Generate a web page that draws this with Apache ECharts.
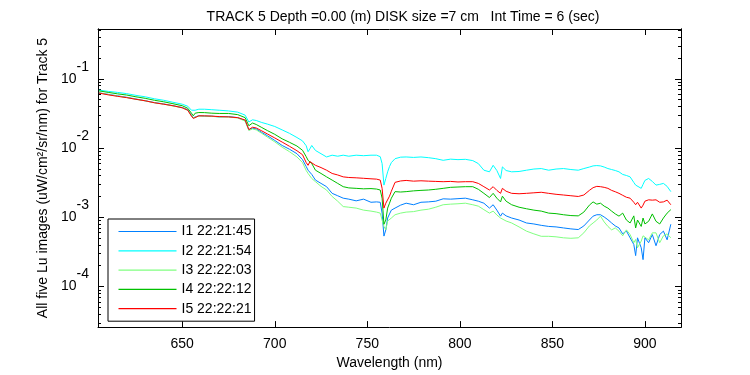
<!DOCTYPE html>
<html>
<head>
<meta charset="utf-8">
<script src="https://cdn.jsdelivr.net/npm/echarts@6/dist/echarts.min.js"></script>
<style>
  html, body { margin: 0; padding: 0; background: #fff; }
  #chart { width: 750px; height: 375px; }
</style>
</head>
<body>
<div id="chart"></div>
<script>
// wavelength (nm)
var wavelengths = [605, 610, 615, 620, 625, 630, 635, 640, 645, 650, 653, 655, 656, 657, 659, 662, 666, 670, 675, 680,
  684, 686, 687, 688, 690, 693, 696, 700, 704, 708, 712, 715, 717, 718, 719, 720, 722, 725, 728, 731,
  734, 737, 740, 744, 748, 752, 755, 757, 758, 759, 760, 761, 762, 763, 765, 768, 771, 775, 779, 783,
  787, 791, 795, 799, 803, 807, 810, 813, 816, 818, 820, 822, 823, 825, 828, 832, 836, 840, 844, 848,
  852, 856, 860, 864, 867, 870, 872, 874, 876, 878, 880, 882, 884, 886, 888, 890, 892, 894, 895, 896,
  898, 899, 900, 902, 904, 906, 908, 910, 912, 914];

// Lu (uW/cm^2/sr/nm)
var lu1 = [0.0627, 0.0597, 0.0568, 0.0541, 0.0511, 0.0482, 0.0454, 0.0434, 0.0409, 0.0385, 0.0358, 0.0299, 0.0275, 0.0289, 0.0294, 0.0289, 0.0289, 0.0282, 0.0285, 0.0275,
  0.0250, 0.0183, 0.0186, 0.0193, 0.0189, 0.0168, 0.0151, 0.0129, 0.0109, 0.00961, 0.00829, 0.00681, 0.00541, 0.00479, 0.00474, 0.00416, 0.00345, 0.00309, 0.00277, 0.00222,
  0.00205, 0.00189, 0.00183, 0.00173, 0.00183, 0.00165, 0.00167, 0.00165, 0.00115, 0.000536, 0.000659, 0.000977, 0.00112, 0.00127, 0.00136, 0.00150, 0.00160, 0.00152, 0.00165, 0.00167,
  0.00171, 0.00185, 0.00183, 0.00186, 0.00189, 0.00179, 0.00171, 0.00160, 0.00136, 0.00152, 0.00127, 0.00104, 0.00115, 0.00105, 0.000977, 0.000915, 0.000829, 0.000802, 0.000766, 0.000739,
  0.000727, 0.000703, 0.000681, 0.000666, 0.000751, 0.000915, 0.00104, 0.00109, 0.00109, 0.00101, 0.000924, 0.000829, 0.000751, 0.000703, 0.000577, 0.000637, 0.000506, 0.000406, 0.000280, 0.000506,
  0.000364, 0.000245, 0.000506, 0.000430, 0.000564, 0.000389, 0.000564, 0.000632, 0.000474, 0.000794];

var lu2 = [0.0687, 0.0659, 0.0637, 0.0611, 0.0577, 0.0550, 0.0515, 0.0490, 0.0459, 0.0430, 0.0402, 0.0352, 0.0333, 0.0352, 0.0364, 0.0364, 0.0358, 0.0352, 0.0344, 0.0330,
  0.0299, 0.0238, 0.0235, 0.0256, 0.0250, 0.0234, 0.0222, 0.0205, 0.0183, 0.0163, 0.0142, 0.0127, 0.0108, 0.00885, 0.00977, 0.0109, 0.00924, 0.00829, 0.00744, 0.00789,
  0.00763, 0.00789, 0.00763, 0.00789, 0.00776, 0.00789, 0.00789, 0.00751, 0.00597, 0.00292, 0.00364, 0.00454, 0.00541, 0.00617, 0.00703, 0.00739, 0.00744, 0.00733, 0.00744, 0.00727,
  0.00703, 0.00666, 0.00692, 0.00681, 0.00688, 0.00659, 0.00597, 0.00479, 0.00454, 0.00564, 0.00474, 0.00364, 0.00535, 0.00474, 0.00454, 0.00459, 0.00479, 0.00498, 0.00506, 0.00479,
  0.00498, 0.00506, 0.00490, 0.00479, 0.00506, 0.00532, 0.00553, 0.00559, 0.00553, 0.00532, 0.00506, 0.00490, 0.00474, 0.00454, 0.00416, 0.00402, 0.00384, 0.00319, 0.00292, 0.00309,
  0.00262, 0.00299, 0.00341, 0.00364, 0.00330, 0.00292, 0.00299, 0.00309, 0.00280, 0.00235];

var lu3 = [0.0627, 0.0593, 0.0563, 0.0537, 0.0506, 0.0480, 0.0451, 0.0430, 0.0405, 0.0381, 0.0352, 0.0294, 0.0272, 0.0287, 0.0291, 0.0289, 0.0287, 0.0281, 0.0281, 0.0272,
  0.0245, 0.0180, 0.0183, 0.0189, 0.0183, 0.0163, 0.0144, 0.0123, 0.0103, 0.00885, 0.00744, 0.00617, 0.00474, 0.00430, 0.00416, 0.00364, 0.00327, 0.00280, 0.00248, 0.00200,
  0.00171, 0.00143, 0.00140, 0.00136, 0.00127, 0.00123, 0.00119, 0.00115, 0.000915, 0.000739, 0.000659, 0.000885, 0.000915, 0.000977, 0.00109, 0.00115, 0.00119, 0.00121, 0.00127, 0.00131,
  0.00140, 0.00152, 0.00155, 0.00157, 0.00160, 0.00152, 0.00145, 0.00129, 0.00115, 0.00123, 0.00108, 0.000977, 0.000915, 0.000885, 0.000829, 0.000727, 0.000632, 0.000577, 0.000532, 0.000532,
  0.000523, 0.000506, 0.000498, 0.000506, 0.000597, 0.000751, 0.000829, 0.000915, 0.00104, 0.000857, 0.000739, 0.000659, 0.000703, 0.000632, 0.000541, 0.000659, 0.000564, 0.000430, 0.000479, 0.000364,
  0.000454, 0.000541, 0.000564, 0.000474, 0.000597, 0.000597, 0.000430, 0.000541, 0.000577, 0.000506];

var lu4 = [0.0670, 0.0637, 0.0607, 0.0583, 0.0550, 0.0523, 0.0490, 0.0466, 0.0437, 0.0409, 0.0376, 0.0319, 0.0292, 0.0319, 0.0326, 0.0325, 0.0319, 0.0316, 0.0316, 0.0304,
  0.0275, 0.0210, 0.0212, 0.0230, 0.0219, 0.0198, 0.0179, 0.0158, 0.0136, 0.0121, 0.0107, 0.00930, 0.00751, 0.00666, 0.00637, 0.00597, 0.00479, 0.00430, 0.00384, 0.00345,
  0.00309, 0.00277, 0.00266, 0.00262, 0.00258, 0.00260, 0.00256, 0.00248, 0.00189, 0.000794, 0.000915, 0.00136, 0.00160, 0.00189, 0.00235, 0.00232, 0.00235, 0.00241, 0.00245, 0.00248,
  0.00254, 0.00262, 0.00271, 0.00274, 0.00277, 0.00277, 0.00254, 0.00222, 0.00193, 0.00222, 0.00189, 0.00167, 0.00202, 0.00171, 0.00152, 0.00140, 0.00133, 0.00127, 0.00123, 0.00115,
  0.00113, 0.00109, 0.00106, 0.00105, 0.00119, 0.00150, 0.00167, 0.00155, 0.00160, 0.00145, 0.00136, 0.00123, 0.00112, 0.00104, 0.00115, 0.000915, 0.000829, 0.00105, 0.000703, 0.000915,
  0.000739, 0.000977, 0.000802, 0.000876, 0.00112, 0.000876, 0.000802, 0.000977, 0.00115, 0.00129];

var lu5 = [0.0623, 0.0587, 0.0559, 0.0535, 0.0506, 0.0482, 0.0451, 0.0430, 0.0409, 0.0382, 0.0352, 0.0289, 0.0268, 0.0285, 0.0292, 0.0292, 0.0289, 0.0285, 0.0282, 0.0275,
  0.0254, 0.0185, 0.0189, 0.0200, 0.0195, 0.0177, 0.0160, 0.0140, 0.0122, 0.0106, 0.00915, 0.00802, 0.00617, 0.00564, 0.00637, 0.00666, 0.00564, 0.00523, 0.00479, 0.00430,
  0.00409, 0.00384, 0.00376, 0.00372, 0.00366, 0.00360, 0.00356, 0.00345, 0.00262, 0.00136, 0.00160, 0.00171, 0.00202, 0.00238, 0.00320, 0.00335, 0.00341, 0.00333, 0.00337, 0.00333,
  0.00330, 0.00327, 0.00330, 0.00324, 0.00327, 0.00327, 0.00309, 0.00277, 0.00248, 0.00277, 0.00245, 0.00222, 0.00262, 0.00238, 0.00222, 0.00219, 0.00222, 0.00226, 0.00230, 0.00222,
  0.00215, 0.00210, 0.00205, 0.00200, 0.00210, 0.00245, 0.00268, 0.00280, 0.00277, 0.00271, 0.00262, 0.00245, 0.00234, 0.00222, 0.00208, 0.00195, 0.00189, 0.00165, 0.00152, 0.00165,
  0.00136, 0.00150, 0.00171, 0.00179, 0.00177, 0.00179, 0.00165, 0.00167, 0.00177, 0.00152];

var seriesNames = ['I1 22:21:45', 'I2 22:21:54', 'I3 22:22:03', 'I4 22:22:12', 'I5 22:22:21'];
var seriesColors = ['#0080ff', '#00ffff', '#80ff80', '#00c000', '#ff0000'];
var seriesData = [lu1, lu2, lu3, lu4, lu5];

var xTicks = [650, 700, 750, 800, 850, 900];
var yMajor = [1e-4, 1e-3, 1e-2, 1e-1];
var yMinor = [3e-5, 4e-5, 5e-5, 6e-5, 7e-5, 8e-5, 9e-5,
  2e-4, 3e-4, 4e-4, 5e-4, 6e-4, 7e-4, 8e-4, 9e-4,
  2e-3, 3e-3, 4e-3, 5e-3, 6e-3, 7e-3, 8e-3, 9e-3,
  2e-2, 3e-2, 4e-2, 5e-2, 6e-2, 7e-2, 8e-2, 9e-2,
  2e-1, 3e-1, 4e-1, 5e-1];

var FONT = 'Liberation Sans';
var X_MIN = 604.5, X_MAX = 919.5;
var Y_MIN = 2.6e-5, Y_MAX = 0.524;

var chart = echarts.init(document.getElementById('chart'));

function xAxisDef(pos, showLabel) {
  return {
    type: 'value', position: pos, min: X_MIN, max: X_MAX,
    name: showLabel ? 'Wavelength (nm)' : '',
    nameLocation: 'middle', nameGap: 23,
    nameTextStyle: { color: '#000', fontSize: 14, fontFamily: FONT },
    axisLine: { show: true, lineStyle: { color: '#000', width: 1 } },
    axisTick: { show: true, inside: true, length: 6, customValues: xTicks, lineStyle: { color: '#000' } },
    axisLabel: { show: showLabel, customValues: xTicks, margin: 10, color: '#000', fontSize: 14, fontFamily: FONT },
    splitLine: { show: false }
  };
}

function yAxisDef(pos, major, showLabel) {
  return {
    type: 'log', logBase: 10, position: pos, min: Y_MIN, max: Y_MAX,
    name: showLabel ? 'All five Lu images (uW/cm\u00b2/sr/nm) for Track 5' : '',
    nameLocation: 'middle', nameGap: 40, nameRotate: 90,
    nameTextStyle: { color: '#000', fontSize: 14, fontFamily: FONT },
    axisLine: { show: true, lineStyle: { color: '#000', width: 1 } },
    axisTick: { show: true, inside: true, length: major ? 6 : 3, customValues: major ? yMajor : yMinor, lineStyle: { color: '#000' } },
    axisLabel: {
      show: showLabel, customValues: yMajor, margin: 9,
      formatter: function (v) {
        return '{b|10}{e|' + Math.round(Math.log10(v)) + '}';
      },
      rich: {
        b: { fontSize: 14, lineHeight: 14, fontFamily: FONT, color: '#000' },
        e: { fontSize: 14, lineHeight: 14, fontFamily: FONT, color: '#000', padding: [0, 0, 24, 0] }
      }
    },
    splitLine: { show: false }
  };
}

chart.setOption({
  animation: false,
  backgroundColor: '#fff',
  textStyle: { fontFamily: FONT },
  title: {
    text: 'TRACK 5 Depth =0.00 (m) DISK size =7 cm   Int Time = 6 (sec)',
    left: 398, top: 5, textAlign: 'center',
    textStyle: { fontSize: 14, fontWeight: 'normal', color: '#000', fontFamily: FONT }
  },
  grid: { left: 98, top: 29, width: 583, height: 302 },
  legend: {
    orient: 'vertical', left: 108, top: 219,
    padding: [5.5, 3, 5.5, 10.5],
    icon: 'rect', itemWidth: 58, itemHeight: 1.2, itemGap: 5.3,
    borderColor: '#000', borderWidth: 1, backgroundColor: '#fff',
    textStyle: { fontSize: 14, lineHeight: 14, color: '#000', fontFamily: FONT },
    data: seriesNames
  },
  xAxis: [xAxisDef('bottom', true), xAxisDef('top', false)],
  yAxis: [
    yAxisDef('left', true, true),
    yAxisDef('left', false, false),
    yAxisDef('right', true, false),
    yAxisDef('right', false, false)
  ],
  series: seriesData.map(function (d, i) {
    return {
      name: seriesNames[i], type: 'line', xAxisIndex: 0, yAxisIndex: 0,
      symbol: 'none', showSymbol: false,
      lineStyle: { color: seriesColors[i], width: 1 },
      itemStyle: { color: seriesColors[i] },
      data: wavelengths.map(function (w, k) { return [w, d[k]]; })
    };
  })
});
</script>
</body>
</html>
